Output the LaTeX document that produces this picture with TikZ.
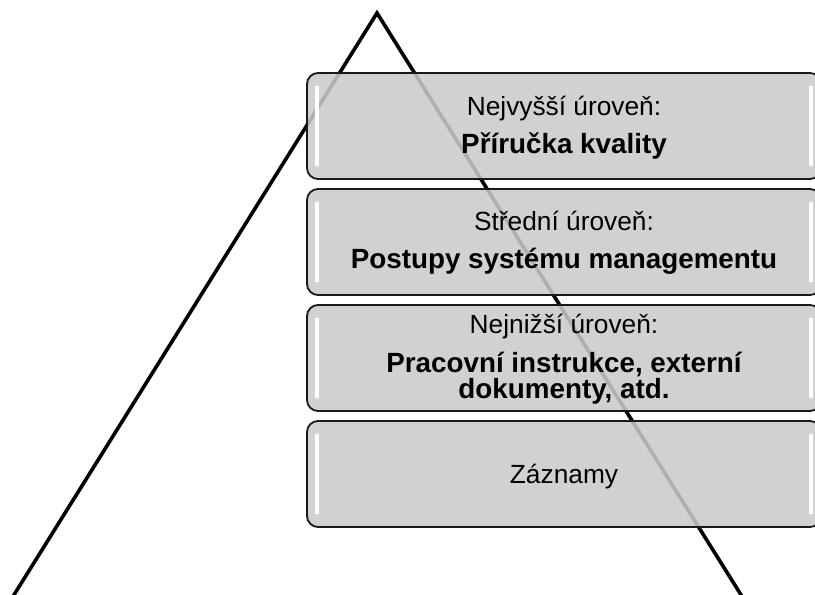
\documentclass[tikz,border=0pt]{standalone}
\usepackage{fontspec}
\setmainfont{Liberation Sans}
\begin{document}
\begin{tikzpicture}[x=1pt,y=-1pt,
  lvlbox/.style={draw=black!90, line width=1.8pt, rounded corners=11pt,
    fill=boxgray, fill opacity=0.87, minimum width=514pt, minimum height=106pt,
    inner sep=0pt, outer sep=0pt},
  shine/.style={draw=white, line width=3.2pt, line cap=round},
  regtxt/.style={anchor=base, font=\fontsize{26.3}{30}\selectfont, text=black},
  boldtxt/.style={anchor=base, font=\fontsize{27.8}{30}\selectfont\bfseries, text=black}
]
\definecolor{boxgray}{RGB}{202,202,202}
\useasboundingbox (0,0) rectangle (815,595);
\clip (0,0) rectangle (815,595);
% pyramid outline
\coordinate (pl) at (12,598);
\coordinate (pt) at (377,13);
\coordinate (pr) at (743,598);
\draw[line width=3.6pt, line join=miter] (pl) -- (pt) -- (pr);
% level boxes
\node[lvlbox] (b1) at (564,126) {};
\node[lvlbox] (b2) at (564,242) {};
\node[lvlbox] (b3) at (564,358) {};
\node[lvlbox] (b4) at (564,474) {};
% highlights
\foreach \b in {b1,b2,b3,b4}{
  \draw[shine] ([xshift=10pt,yshift=-14pt]\b.north west) -- ([xshift=10pt,yshift=14pt]\b.south west);
  \draw[shine] ([xshift=-10pt,yshift=-14pt]\b.north east) -- ([xshift=-10pt,yshift=14pt]\b.south east);
}
% texts
\node[regtxt]  (t1a) at ([yshift=11pt]b1.center) {Nejvyšší úroveň:};
\node[boldtxt] (t1b) at ([yshift=-27pt]b1.center) {Příručka kvality};
\node[regtxt]  (t2a) at ([yshift=12pt]b2.center) {Střední úroveň:};
\node[boldtxt] (t2b) at ([yshift=-26pt]b2.center) {Postupy systému managementu};
\node[regtxt]  (t3a) at ([yshift=25pt]b3.center) {Nejnižší úroveň:};
\node[boldtxt] (t3b) at ([yshift=-14pt]b3.center) {Pracovní instrukce, externí};
\node[boldtxt] (t3c) at ([yshift=-40pt]b3.center) {dokumenty, atd.};
\node[regtxt]  (t4a) at ([yshift=-9pt]b4.center) {Záznamy};
\end{tikzpicture}
\end{document}
